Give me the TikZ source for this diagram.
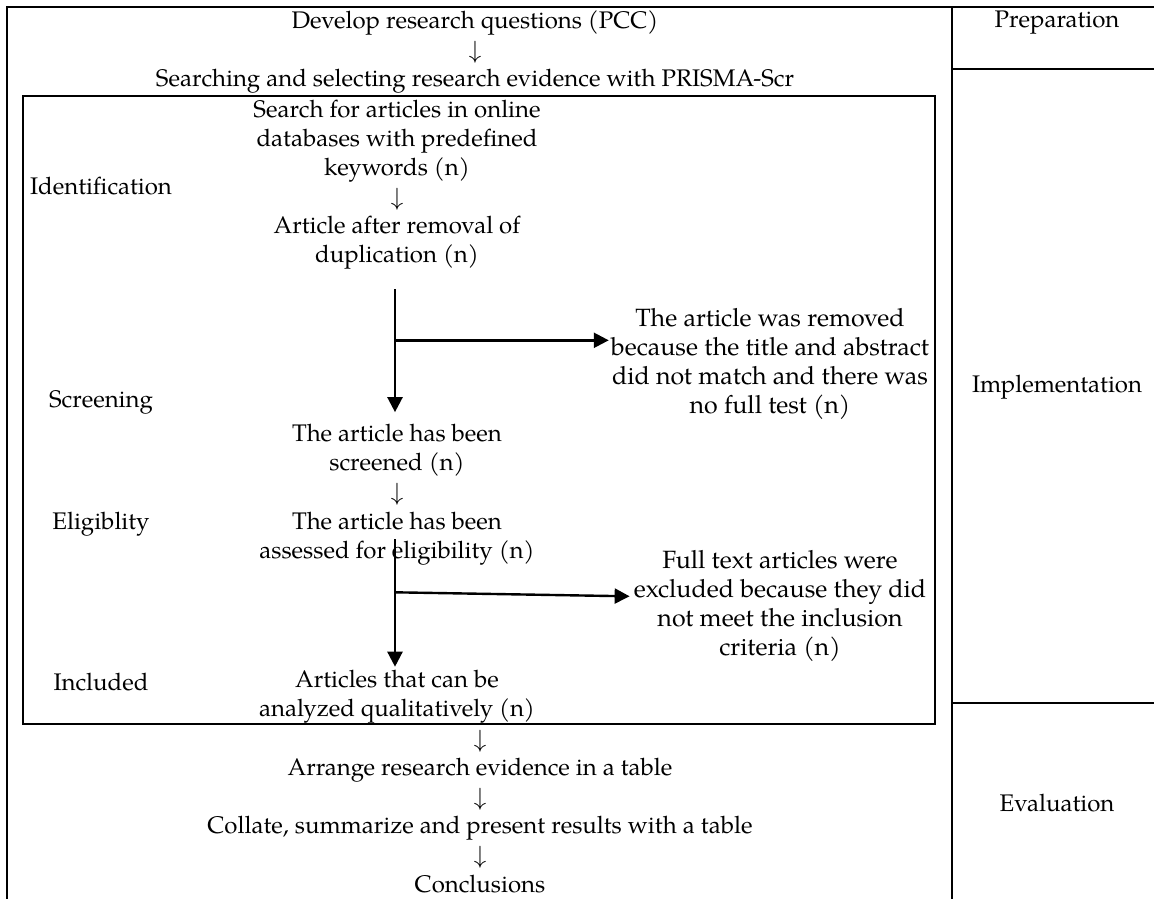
\documentclass[tikz,border=0pt]{standalone}
\usepackage{fontspec}
\setmainfont{TeX Gyre Pagella}
\usetikzlibrary{arrows.meta,calc}
\begin{document}
\begin{tikzpicture}[x=1pt,y=-1pt,
  txt/.style={inner sep=0pt, align=center, font=\fontsize{24}{29}\selectfont},
  bigtxt/.style={txt, font=\fontsize{25}{29}\selectfont},
  frame/.style={line width=1.7pt},
  flow/.style={line width=2.4pt, -{Triangle[width=15pt,length=15pt]}},
  down/.style={txt}]
\useasboundingbox (0,0) rectangle (1154,899);
% table
\draw[frame] (7,899) -- (7,7) -- (1154,7);
\draw[frame] (952,7) -- (952,899);
\draw[frame] (952,69) -- (1154,69);
\draw[frame] (952,703) -- (1154,703);
\draw[frame] (23,96) rectangle (935,724);
% right column
\node[txt] (prep) at (1057,23) {Preparation};
\node[txt] (impl) at (1057,387) {Implementation};
\node[txt] (eval) at (1057,803) {Evaluation};
% top
\node[txt] (dev) at (475,23) {Develop research questions (PCC)};
\node[down] (d1) at (475,52) {$\downarrow$};
\node[txt] (sea) at (475,81) {Searching and selecting research evidence with PRISMA-Scr};
% inner
\node[txt] (lid) at (101,186) {Identification};
\node[txt] (lsc) at (101,402) {Screening};
\node[txt] (lel) at (101,524) {Eligiblity};
\node[txt] (lin) at (101,682) {Included};
\node[txt] (srch) at (397,141) {Search for articles in online\\databases with predefined\\keywords (n)};
\node[down] (d2) at (397,199) {$\downarrow$};
\node[txt] (dup) at (397,242.5) {Article after removal of\\duplication (n)};
\node[bigtxt] (rem) at (770,364) {The article was removed\\because the title and abstract\\did not match and there was\\no full test (n)};
\node[txt] (scr) at (397,450.5) {The article has been\\screened (n)};
\node[down] (d3) at (397,494) {$\downarrow$};
\node[txt] (elig) at (397,538.5) {The article has been\\assessed for eligibility (n)};
\node[bigtxt] (ft) at (780,605.5) {Full text articles were\\excluded because they did\\not meet the inclusion\\criteria (n)};
\node[txt] (inc) at (397,696.5) {Articles that can be\\analyzed qualitatively (n)};
% arrows
\coordinate (a1) at ($(dup.south)+(-2,20)$);
\coordinate (b1) at ($(a1)+(0,51)$);
\draw[flow] (a1) -- ($(scr.north)+(-2,-12)$);
\draw[flow] (b1) -- ($(b1 -| rem.west)+(-2,0)$);
\coordinate (a2) at ($(elig.south)+(-2,-26)$);
\coordinate (b2) at ($(a2)+(0,53)$);
\draw[flow] (a2) -- ($(inc.north)+(-2,-3)$);
\draw[flow] (b2) -- ($(b2 -| ft.west)+(-4,4)$);
% bottom
\node[down] (d4) at (480,741) {$\downarrow$};
\node[txt] (arr) at (480,770) {Arrange research evidence in a table};
\node[down] (d5) at (480,799) {$\downarrow$};
\node[txt] (col) at (480,828) {Collate, summarize and present results with a table};
\node[down] (d6) at (480,857) {$\downarrow$};
\node[txt] (con) at (480,884) {Conclusions};
\end{tikzpicture}
\end{document}
